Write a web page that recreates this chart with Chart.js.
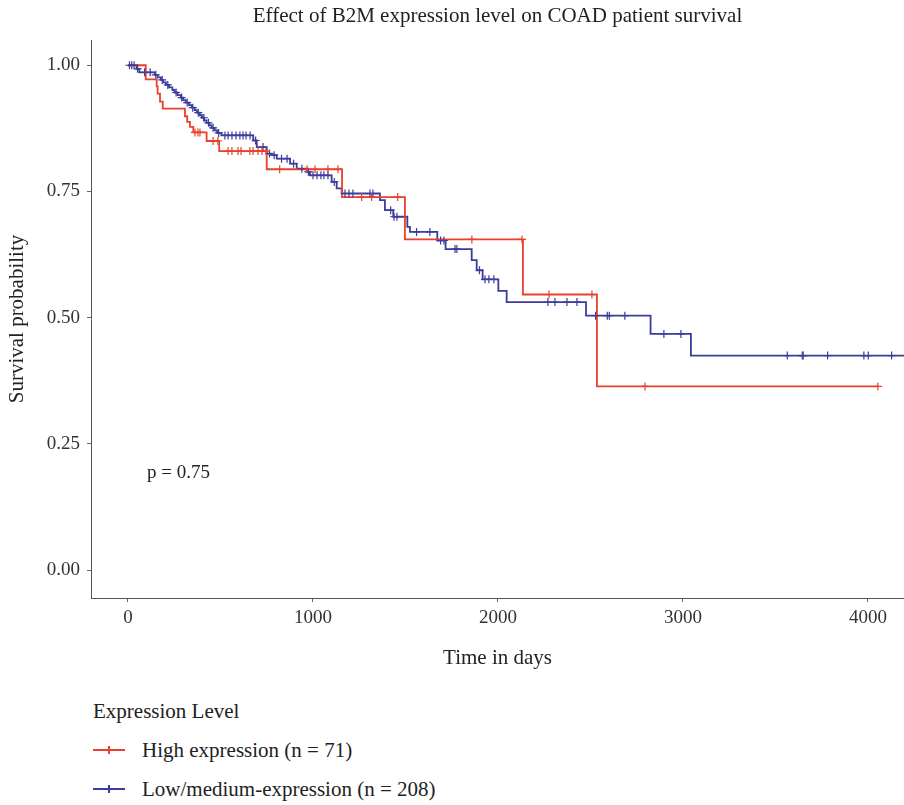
<!DOCTYPE html>
<html><head><meta charset="utf-8">
<script src="https://cdn.jsdelivr.net/npm/chart.js@4/dist/chart.umd.min.js"></script>
<style>
html,body{margin:0;padding:0;background:#fff;}
#wrap{position:relative;width:904px;height:805px;overflow:hidden;}
#c{position:absolute;left:0;top:0;}
#legend{position:absolute;left:93px;top:697px;font-family:"Liberation Serif","Times New Roman",serif;font-size:21px;color:#222;}
#legend .ttl{height:28px;line-height:28px;margin-bottom:12px;}
#legend .item{position:relative;height:39px;line-height:26px;}
#legend .ln{position:absolute;left:0;top:12px;width:32px;height:2px;}
#legend .tk{position:absolute;left:15px;top:9px;width:2px;height:8px;}
#legend .tx{position:absolute;left:49px;top:0;white-space:nowrap;}
</style></head><body>
<div id="wrap">
<canvas id="c" width="904" height="680"></canvas>
<div id="legend"></div>
</div>
<script>
// ---- data ----
const chartTitle = "Effect of B2M expression level on COAD patient survival";
const xAxisTitle = "Time in days";
const yAxisTitle = "Survival probability";
const legendTitle = "Expression Level";
const seriesNames = ["High expression (n = 71)", "Low/medium-expression (n = 208)"];
const xTicks = [0, 1000, 2000, 3000, 4000];
const yTicks = [0, 0.25, 0.5, 0.75, 1.0];
const pValueText = "p = 0.75";

const highTimes = [0, 96, 155, 160, 173, 188, 308, 320, 335, 353, 425, 493, 750, 1157, 1497, 2135, 2535, 4054];
const highSurv  = [1.0, 0.972, 0.958, 0.944, 0.928, 0.914, 0.899, 0.888, 0.878, 0.867, 0.850, 0.830, 0.794, 0.739, 0.655, 0.546, 0.364, 0.364];
const highCensor = [362, 378, 389, 460, 486, 541, 562, 595, 611, 659, 676, 703, 724, 746, 820, 968, 1011, 1081, 1135, 1263, 1317, 1458, 1859, 2130, 2276, 2508, 2795, 4054];

const lowTimes = [0, 47, 61, 146, 160, 178, 190, 205, 222, 240, 252, 268, 285, 298, 312, 330, 345, 360, 372, 388, 400, 412, 425, 440, 452, 468, 482, 505, 677, 696, 750, 777, 804, 876, 912, 966, 984, 1101, 1128, 1155, 1362, 1389, 1434, 1510, 1524, 1672, 1717, 1858, 1885, 1917, 2002, 2047, 2476, 2825, 3043, 4195];
const lowSurv  = [1.0, 0.993, 0.986, 0.981, 0.976, 0.971, 0.966, 0.961, 0.956, 0.951, 0.946, 0.941, 0.936, 0.931, 0.926, 0.921, 0.916, 0.911, 0.906, 0.901, 0.896, 0.891, 0.886, 0.881, 0.876, 0.871, 0.866, 0.861, 0.851, 0.838, 0.825, 0.822, 0.815, 0.805, 0.795, 0.789, 0.782, 0.769, 0.756, 0.746, 0.733, 0.713, 0.700, 0.680, 0.670, 0.653, 0.636, 0.614, 0.594, 0.576, 0.553, 0.531, 0.504, 0.468, 0.425, 0.425];
const lowCensor = [8, 20, 33, 52, 90, 120, 150, 185, 215, 260, 290, 320, 350, 380, 410, 435, 460, 490, 524, 541, 562, 584, 605, 622, 638, 660, 690, 730, 765, 790, 830, 860, 895, 940, 975, 1000, 1022, 1043, 1059, 1081, 1115, 1173, 1195, 1216, 1308, 1324, 1420, 1438, 1454, 1560, 1632, 1690, 1708, 1768, 1778, 1900, 1930, 1951, 1978, 2270, 2308, 2373, 2427, 2528, 2591, 2602, 2686, 2897, 2989, 3564, 3645, 3650, 3782, 3978, 4002, 4128];

// ---- styles ----
const colors = ["#E8412C", "#3C3C9A"];
const FONT = '"Liberation Serif","Times New Roman",serif';

function toPoints(times, surv){ return times.map((t,i)=>({x:t, y:surv[i]})); }
function survAt(times, surv, t){ let s = surv[0]; for (let i=0;i<times.length;i++){ if (times[i] <= t) s = surv[i]; else break; } return s; }
function censorPoints(c, times, surv){ return c.map(t=>({x:t, y:survAt(times, surv, t)})); }

const lineDs = (label, data, color) => ({label, data, borderColor: color, backgroundColor: color, borderWidth: 1.8, stepped: 'before', pointRadius: 0, fill: false, order: 2});
const tickDs = (label, data, color) => ({label, data, type: 'scatter', showLine: false, borderColor: color, backgroundColor: color, pointStyle: 'cross', pointRadius: 4, pointBorderWidth: 1.2, order: 1});

const overlay = {
  id: 'overlay',
  afterDraw(chart){
    const {ctx, chartArea, scales} = chart;
    ctx.save();
    ctx.fillStyle = '#222';
    ctx.font = '21px ' + FONT;
    ctx.textAlign = 'center';
    ctx.textBaseline = 'middle';
    ctx.fillText(chartTitle, (chartArea.left + chartArea.right)/2, 16);
    ctx.font = '19px ' + FONT;
    ctx.textAlign = 'left';
    ctx.fillText(pValueText, scales.x.getPixelForValue(103), scales.y.getPixelForValue(0.193));
    ctx.restore();
  }
};

new Chart(document.getElementById('c'), {
  type: 'line',
  data: {
    datasets: [
      lineDs(seriesNames[0], toPoints(highTimes, highSurv), colors[0]),
      lineDs(seriesNames[1], toPoints(lowTimes, lowSurv), colors[1]),
      tickDs(seriesNames[0] + ' censored', censorPoints(highCensor, highTimes, highSurv), colors[0]),
      tickDs(seriesNames[1] + ' censored', censorPoints(lowCensor, lowTimes, lowSurv), colors[1])
    ]
  },
  options: {
    responsive: false,
    animation: false,
    devicePixelRatio: 1,
    layout: {autoPadding: false, padding: {top: 40, left: 0, right: 0, bottom: 0}},
    plugins: {legend: {display: false}, tooltip: {enabled: false}, title: {display: false}},
    scales: {
      x: {
        type: 'linear', min: -200, max: 4195,
        afterBuildTicks(s){ s.ticks = xTicks.map(v=>({value:v})); },
        afterFit(s){ s.height = 82; s.paddingLeft = 0; s.paddingRight = 0; },
        ticks: {color: '#333', font: {family: FONT, size: 19}, padding: 5, maxRotation: 0, callback: v => String(v)},
        grid: {display: true, drawOnChartArea: false, drawTicks: true, tickLength: 4, color: '#666'},
        border: {display: true, color: '#555', width: 1},
        title: {display: true, text: xAxisTitle, color: '#222', font: {family: FONT, size: 21}, padding: {top: 0, bottom: 9}}
      },
      y: {
        type: 'linear', min: -0.055, max: 1.05,
        afterBuildTicks(s){ s.ticks = yTicks.map(v=>({value:v})); },
        afterFit(s){ s.width = 91; s.paddingTop = 0; s.paddingBottom = 0; },
        ticks: {color: '#333', font: {family: FONT, size: 19}, padding: 7, callback: v => Number(v).toFixed(2)},
        grid: {display: true, drawOnChartArea: false, drawTicks: true, tickLength: 4, color: '#666'},
        border: {display: true, color: '#555', width: 1},
        title: {display: true, text: yAxisTitle, color: '#222', font: {family: FONT, size: 21}, padding: {top: 5, bottom: 0}}
      }
    }
  },
  plugins: [overlay]
});

// HTML legend
const lg = document.getElementById('legend');
let html = '<div class="ttl">' + legendTitle + '</div>';
seriesNames.forEach((n,i)=>{
  html += '<div class="item"><div class="ln" style="background:' + colors[i] + '"></div><div class="tk" style="background:' + colors[i] + '"></div><div class="tx">' + n + '</div></div>';
});
lg.innerHTML = html;
</script>
</body></html>
